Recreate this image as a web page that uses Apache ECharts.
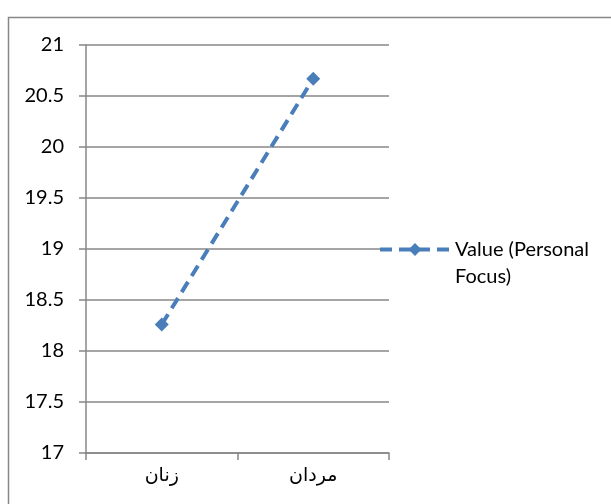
<!DOCTYPE html>
<html>
<head>
<meta charset="utf-8">
<script src="https://cdn.jsdelivr.net/npm/echarts@6/dist/echarts.min.js"></script>
<style>
  html, body { margin: 0; padding: 0; background: #fff; }
  #main { width: 611px; height: 504px; }
</style>
</head>
<body>
<div id="main"></div>
<script>
var categories = ['زنان', 'مردان'];
var values = [18.26, 20.67];
var seriesName = 'Value (Personal Focus)';
var yMin = 17, yMax = 21, yStep = 0.5;

var chart = echarts.init(document.getElementById('main'), null, { renderer: 'canvas' });
var gray = '#878787';
var blue = '#4a7ebb';

chart.setOption({
  animation: false,
  graphic: [{
    type: 'rect',
    shape: { x: 8.5, y: 17.5, width: 700, height: 600 },
    style: { fill: 'none', stroke: gray, lineWidth: 1.5 },
    z: -1
  }],
  grid: { left: 86, right: 222, top: 45, bottom: 51 },
  legend: {
    left: 373,
    top: 204,
    padding: 5,
    itemWidth: 70,
    itemHeight: 16,
    formatter: function () { return '\nValue (Personal\nFocus)'; },
    lineStyle: { color: blue, width: 4, type: [12, 7] },
    itemStyle: { color: blue },
    textStyle: {
      fontFamily: 'Lato, "Open Sans", sans-serif',
      fontSize: 20,
      color: '#000',
      lineHeight: 27
    }
  },
  xAxis: {
    type: 'category',
    data: categories,
    boundaryGap: true,
    axisLine: { lineStyle: { color: gray, width: 1.5 } },
    axisTick: { show: true, length: 7, lineStyle: { color: gray, width: 1.5 } },
    axisLabel: {
      margin: 14,
      color: '#000',
      fontSize: 19,
      fontFamily: '"DejaVu Sans", sans-serif'
    }
  },
  yAxis: {
    type: 'value',
    min: yMin,
    max: yMax,
    interval: yStep,
    axisLine: { show: true, lineStyle: { color: gray, width: 1.5 } },
    axisTick: { show: true, length: 7, lineStyle: { color: gray, width: 1.5 } },
    splitLine: { lineStyle: { color: gray, width: 1.5 } },
    axisLabel: {
      margin: 22,
      color: '#000',
      fontSize: 20,
      fontFamily: 'Lato, "Open Sans", sans-serif'
    }
  },
  series: [{
    name: seriesName,
    type: 'line',
    data: values,
    symbol: 'diamond',
    symbolSize: 14,
    itemStyle: { color: blue },
    lineStyle: { color: blue, width: 4, type: [12, 7] }
  }]
});
</script>
</body>
</html>
